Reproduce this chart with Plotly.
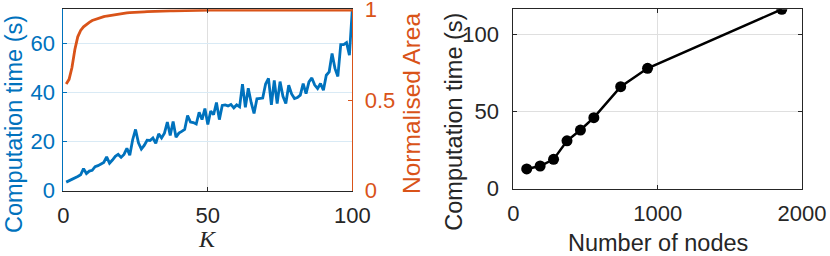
import plotly.graph_objects as go

# ---------------- data ----------------
K = list(range(1, 101))
comp_time = [3.5, 4.0, 4.5, 5.0, 5.8, 6.5, 9.0, 7.0, 8.0, 8.3,
             9.8, 10.2, 10.9, 11.5, 13.8, 11.2, 12.5, 14.0, 14.8, 13.6,
             14.8, 17.3, 14.5, 20.8, 25.0, 19.5, 17.0, 18.5, 20.6, 20.5,
             21.5, 19.3, 23.2, 21.5, 23.5, 28.0, 22.5, 28.2, 21.8, 23.5,
             24.2, 25.0, 30.7, 28.0, 27.8, 27.2, 32.0, 29.0, 33.5, 27.0,
             32.5, 31.0, 36.0, 29.0, 34.8, 35.0, 34.6, 35.2, 33.8, 35.0,
             34.2, 43.5, 34.0, 41.8, 36.0, 31.5, 37.5, 37.8, 37.8, 43.5,
             45.8, 35.0, 45.0, 35.5, 44.5, 38.5, 35.6, 43.0, 39.5, 37.6,
             38.0, 39.0, 43.7, 39.6, 44.4, 46.0, 43.1, 41.7, 43.7, 41.0,
             47.1, 48.5, 56.0, 49.9, 46.6, 59.6, 59.6, 60.4, 55.3, 74.0]
norm_area = [0.590, 0.615, 0.680, 0.780, 0.850, 0.885, 0.905, 0.920, 0.930, 0.940,
             0.946, 0.952, 0.957, 0.961, 0.965, 0.968, 0.971, 0.974, 0.977, 0.979,
             0.981, 0.982, 0.984, 0.984, 0.986, 0.987, 0.988, 0.988, 0.989, 0.990,
             0.990, 0.991, 0.991, 0.992, 0.992, 0.992, 0.993, 0.993, 0.993, 0.994,
             0.994, 0.994, 0.995, 0.995, 0.995, 0.995, 0.996, 0.996, 0.996, 0.996,
             0.997, 0.999, 0.997, 0.996, 0.997, 0.997, 0.997, 0.997, 0.998, 0.997,
             0.997, 0.998, 0.997, 0.998, 0.998, 0.997, 0.998, 0.998, 0.997, 0.998,
             0.998, 0.998, 0.997, 0.998, 0.998, 0.998, 0.998, 0.999, 0.998, 0.998,
             0.998, 0.999, 0.998, 0.998, 0.998, 0.999, 0.998, 0.999, 0.999, 0.998,
             0.999, 0.999, 0.999, 0.999, 0.998, 0.999, 0.999, 0.999, 0.999, 0.998]
nodes = [93, 186, 279, 372, 465, 558, 744, 930, 1860]
node_time = [12.8, 14.7, 19.0, 31.0, 38.0, 46.0, 66.1, 78.0, 116.2]

left_yticks = [0, 20, 40, 60]
right_yticks = [0, 0.5, 1]
right_yticktext = ["0", "0.5", "1"]
left_xticks = [0, 50, 100]
nodes_xticks = [0, 1000, 2000]
nodes_yticks = [0, 50, 100]

# ---------------- style ----------------
W, H = 830, 256
BLUE = "#0072BD"
ORANGE = "#D95319"
DARK = "#262626"
GRID = "#DFDFDF"
GRID_BLUE = "#D9EAF5"
FONT = "Liberation Sans, Arial, sans-serif"
TICK = 22
TITLE = 23.5


def px(x):
    return x / W


def py(y):
    return (H - y) / H


fig = go.Figure()
fig.add_trace(go.Scatter(x=K, y=comp_time, mode="lines", xaxis="x", yaxis="y",
                         line=dict(color=BLUE, width=2.8), showlegend=False, hoverinfo="skip"))
fig.add_trace(go.Scatter(x=K, y=norm_area, mode="lines", xaxis="x", yaxis="y2",
                         line=dict(color=ORANGE, width=2.8), showlegend=False, hoverinfo="skip"))
fig.add_trace(go.Scatter(x=nodes, y=node_time, mode="lines+markers", xaxis="x3", yaxis="y3",
                         line=dict(color="black", width=2.5),
                         marker=dict(color="black", size=11), showlegend=False, hoverinfo="skip"))

common = dict(ticks="inside", ticklen=4, zeroline=False, showline=True, linewidth=1,
              automargin=False, ticklabeloverflow="allow")

fig.update_layout(
    width=W, height=H, autosize=False,
    margin=dict(l=0, r=0, t=0, b=0, pad=0),
    paper_bgcolor="white", plot_bgcolor="white",
    font=dict(family=FONT, size=TICK, color=DARK),
    xaxis=dict(domain=[px(63.3), px(352.3)], range=[0, 100], tickvals=left_xticks,
               linecolor=DARK, tickcolor=DARK, mirror="ticks", showgrid=True, gridcolor=GRID,
               tickfont=dict(size=TICK, color=DARK), anchor="y", ticklabelstandoff=5, **common),
    yaxis=dict(domain=[py(190.7), py(9.3)], range=[0, 74], tickvals=left_yticks,
               linecolor=BLUE, tickcolor=BLUE, showgrid=True, gridcolor=GRID_BLUE,
               tickfont=dict(size=TICK, color=BLUE), anchor="x", ticklabelstandoff=3, **common),
    yaxis2=dict(range=[0, 1.002], tickvals=right_yticks, ticktext=right_yticktext,
                overlaying="y", side="right", anchor="x",
                linecolor=ORANGE, tickcolor=ORANGE, showgrid=False,
                tickfont=dict(size=TICK, color=ORANGE), ticklabelstandoff=7, **common),
    xaxis3=dict(domain=[px(513.3), px(802)], range=[0, 2000], tickvals=nodes_xticks,
                linecolor=DARK, tickcolor=DARK, mirror="ticks", showgrid=True, gridcolor=GRID,
                tickfont=dict(size=TICK, color=DARK), anchor="y3", ticklabelstandoff=5, **common),
    yaxis3=dict(domain=[py(188.7), py(9.3)], range=[0, 116.2], tickvals=nodes_yticks,
                linecolor=DARK, tickcolor=DARK, mirror="ticks", showgrid=True, gridcolor=GRID,
                tickfont=dict(size=TICK, color=DARK), anchor="x3", ticklabelstandoff=9, **common),
)

fig.add_annotation(text="Computation time (s)", x=px(14), y=py(124), xref="paper", yref="paper",
                   textangle=-90, showarrow=False, font=dict(size=TITLE, color=BLUE, family=FONT),
                   xanchor="center", yanchor="middle")
fig.add_annotation(text="Normalised Area", x=px(411), y=py(104), xref="paper", yref="paper",
                   textangle=-90, showarrow=False, font=dict(size=24.5, color=ORANGE, family=FONT),
                   xanchor="center", yanchor="middle")
fig.add_annotation(text="<i>K</i>", x=px(207.8), y=py(239), xref="paper", yref="paper",
                   showarrow=False, font=dict(size=24, color=DARK, family="Liberation Serif, Times New Roman, serif"),
                   xanchor="center", yanchor="middle")
fig.add_annotation(text="Computation time (s)", x=px(454), y=py(121.7), xref="paper", yref="paper",
                   textangle=-90, showarrow=False, font=dict(size=TITLE, color=DARK, family=FONT),
                   xanchor="center", yanchor="middle")
fig.add_annotation(text="Number of nodes", x=px(657.7), y=py(243), xref="paper", yref="paper",
                   showarrow=False, font=dict(size=TITLE, color=DARK, family=FONT),
                   xanchor="center", yanchor="middle")

fig.write_html(
    "out.html",
    config={"displayModeBar": False},
    post_script="document.body.style.margin='0px';document.body.style.overflow='hidden';",
)
